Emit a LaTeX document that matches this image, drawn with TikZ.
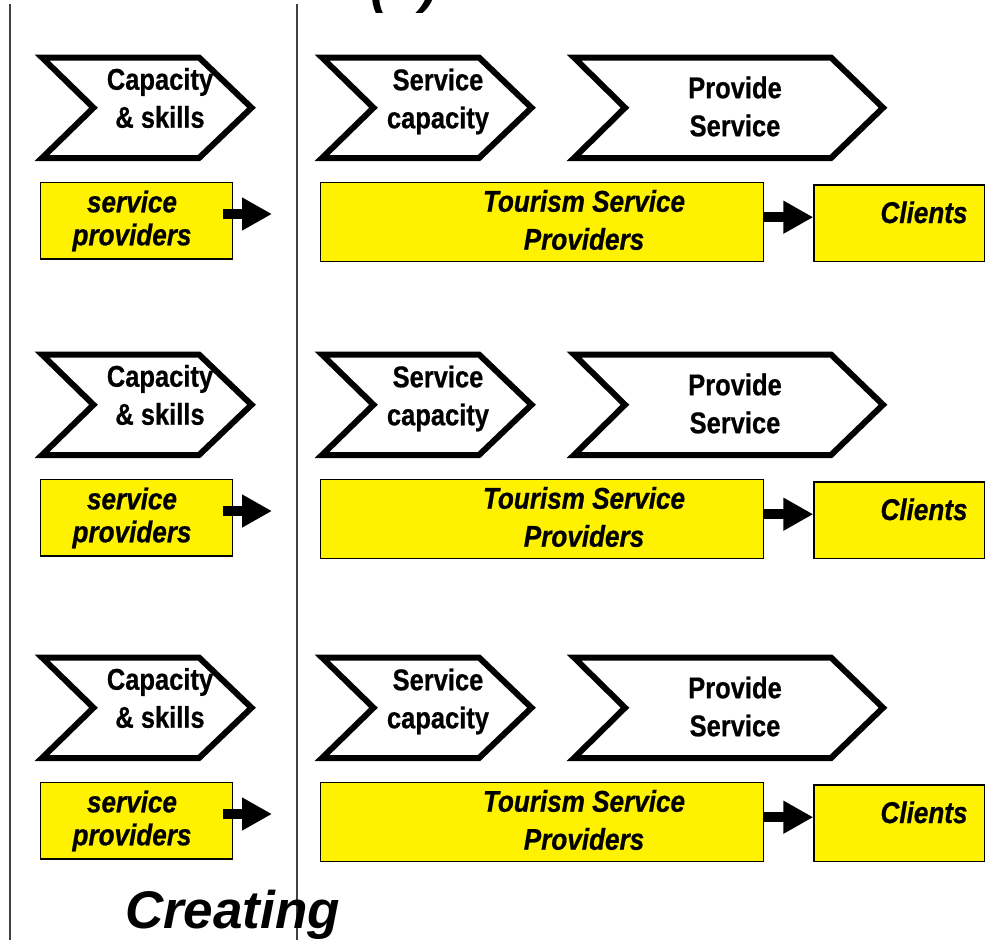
\documentclass[tikz,border=0pt]{standalone}
\usepackage{fontspec}
\setmainfont{Liberation Sans}
\newfontfamily\chevfont[FakeStretch=0.85,BoldFeatures={FakeBold=0.6}]{Liberation Sans}
\newfontfamily\boxfont[FakeStretch=0.87,BoldItalicFeatures={FakeBold=0.6}]{Liberation Sans}
\usetikzlibrary{arrows.meta}

% chevron outline: #1 left x, #2 notch x, #3 top-right x, #4 tip x
\newcommand\chevronpath[4]{%
  \path[chevline] (#1,57.5) -- (#3,57.5) -- (#4,107.75) -- (#3,158)
    -- (#1,158) -- (#2,107.75) -- cycle;}

\begin{document}
\begin{tikzpicture}[x=1pt,y=-1pt,
  chevline/.style={draw=black,line width=6pt,line join=miter,fill=white},
  chevtext/.style={font=\chevfont\bfseries\fontsize{30}{38}\selectfont,
    align=center,inner sep=0pt},
  ybox/.style={draw=black,line width=1.4pt,fill=yellow,inner sep=0pt},
  boxtext/.style={font=\boxfont\bfseries\itshape\fontsize{30}{38}\selectfont,
    align=center,inner sep=0pt},
  flow/.style={line width=10pt,-{Triangle[length=30pt,width=31pt]}},
  divider/.style={draw=black!75,line width=1.5pt},
  bigtext/.style={font=\bfseries\itshape\fontsize{53}{60}\selectfont,inner sep=0pt}]

\path[use as bounding box,clip] (0,0) rectangle (992,940);
\fill[white] (0,0) rectangle (992,940);

% column dividers
\coordinate (d1top) at (10,4);   \coordinate (d1bot) at (10,940);
\coordinate (d2top) at (297,4);  \coordinate (d2bot) at (297,940);
\draw[divider] (d1top) -- (d1bot);
\draw[divider] (d2top) -- (d2bot);

% headings
\node[bigtext,anchor=base] (head) at (404,2) {(\hphantom{b})};
\node[bigtext,anchor=base] (creating) at (232.5,928) {Creating};

\foreach \r/\dy in {1/0,2/297,3/600}{
  \begin{scope}[shift={(0,\dy)}]
    % process chevrons
    \chevronpath{42}{93.5}{199}{251.5}
    \chevronpath{322}{373.5}{479}{531.5}
    \chevronpath{574}{625}{831}{883}
    \node[chevtext] (cap\r) at (160,98) {Capacity\\\& skills};
    \node[chevtext] (svc\r) at (438,101.5) {Service\\capacity};
    \node[chevtext] (prov\r) at (735,106.5) {Provide\\Service};

    % actor boxes
    \node[ybox,minimum width=191.6pt,minimum height=76.7pt] (sp\r) at (136.5,220.65) {};
    \node[ybox,minimum width=442.6pt,minimum height=79pt] (tsp\r) at (542,222.2) {};
    \node[ybox,minimum width=170.3pt,minimum height=76.7pt] (cl\r) at (899.15,223.35) {};
    \node[boxtext,font=\boxfont\bfseries\itshape\fontsize{30}{33}\selectfont]
      (spt\r) at (132,221) {service\\providers};
    \node[boxtext] (tspt\r) at (584,220) {Tourism Service\\Providers};
    \node[boxtext,anchor=base] (clt\r) at (924,223) {Clients};

    % flows
    \coordinate (out\r) at (272,214);
    \draw[flow] ([shift={(-10,-6.65)}]sp\r.east) -- (out\r);
    \draw[flow] ([yshift=5pt]tsp\r.east) coordinate (s\r) -- (s\r -| cl\r.west);
  \end{scope}
}
\end{tikzpicture}
\end{document}
